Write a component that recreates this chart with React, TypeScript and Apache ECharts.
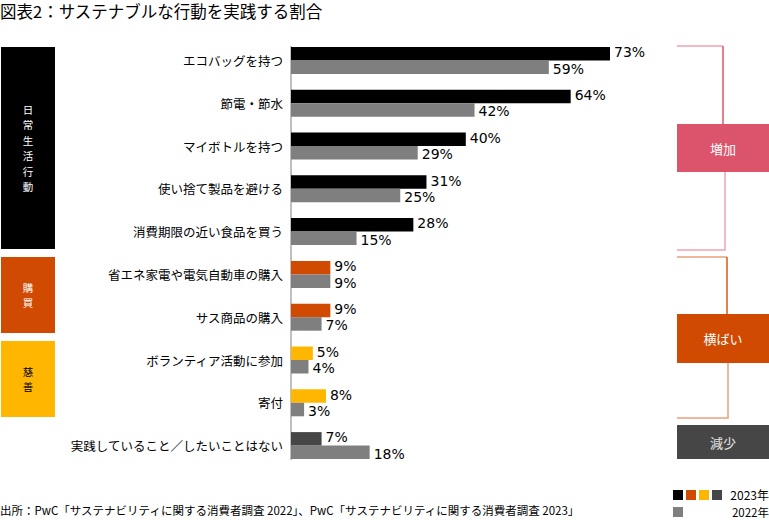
import React, { useEffect, useRef } from "react";
import * as echarts from "echarts";

const categories = [
  "エコバッグを持つ",
  "節電・節水",
  "マイボトルを持つ",
  "使い捨て製品を避ける",
  "消費期限の近い食品を買う",
  "省エネ家電や電気自動車の購入",
  "サス商品の購入",
  "ボランティア活動に参加",
  "寄付",
  "実践していること／したいことはない",
];
const values2023 = [73, 64, 40, 31, 28, 9, 9, 5, 8, 7];
const values2022 = [59, 42, 29, 25, 15, 9, 7, 4, 3, 18];
const colors2023 = [
  "#000000", "#000000", "#000000", "#000000", "#000000",
  "#D04A02", "#D04A02", "#FFB600", "#FFB600", "#464646",
];
const color2022 = "#7F7F7F";
const seriesNames = ["2023年", "2022年"];

const JP = '"Noto Sans CJK JP", "Noto Sans", sans-serif';
const NUM = '"DejaVu Sans", Verdana, sans-serif';

export default function App() {
  const ref = useRef<HTMLDivElement>(null);
  useEffect(() => {
    document.body.style.margin = "0";
    const chart = echarts.init(ref.current!, null, { renderer: "svg" });
    const vText = (s: string, cx: number, cy: number, fill: string) => {
      const chars = s.split("");
      const pitch = 15.5;
      return chars.map((ch, i) => ({
        type: "text",
        x: cx,
        y: cy + (i - (chars.length - 1) / 2) * pitch,
        style: { text: ch, font: `10.5px ${JP}`, fill, align: "center", verticalAlign: "middle" },
      }));
    };
    const graphic: any[] = [
      // title
      { type: "text", x: 0, y: 10.5, style: { text: "図表2：サステナブルな行動を実践する割合", font: `16.5px ${JP}`, fill: "#000", verticalAlign: "middle" } },
      // axis line
      { type: "line", shape: { x1: 291, y1: 46, x2: 291, y2: 460 }, style: { stroke: "#808080", lineWidth: 1 } },
      // left blocks
      { type: "rect", shape: { x: 1, y: 47, width: 54, height: 202 }, style: { fill: "#000000" } },
      ...vText("日常生活行動", 28, 148, "#fff"),
      { type: "rect", shape: { x: 1, y: 257, width: 54, height: 76 }, style: { fill: "#D04A02" } },
      ...vText("購買", 28, 295, "#fff"),
      { type: "rect", shape: { x: 1, y: 341, width: 54, height: 76 }, style: { fill: "#FFB600" } },
      ...vText("慈善", 28, 379, "#000"),
      // pink bracket
      { type: "line", shape: { x1: 677, y1: 46, x2: 723, y2: 46 }, style: { stroke: "#EFA3B1", lineWidth: 1.5 } },
      { type: "line", shape: { x1: 723, y1: 46, x2: 723, y2: 124 }, style: { stroke: "#DC546C", lineWidth: 1.5 } },
      { type: "polyline", shape: { points: [[725, 172], [725, 250], [677, 250]] }, style: { stroke: "#EFA3B1", lineWidth: 1.5, fill: null } },
      { type: "rect", shape: { x: 677, y: 124, width: 92, height: 48 }, style: { fill: "#DC546C" } },
      { type: "text", x: 723, y: 148, style: { text: "増加", font: `13px ${JP}`, fill: "#fff", align: "center", verticalAlign: "middle" } },
      // orange bracket
      { type: "line", shape: { x1: 677, y1: 257, x2: 727, y2: 257 }, style: { stroke: "#EBA07A", lineWidth: 1.5 } },
      { type: "line", shape: { x1: 727, y1: 257, x2: 727, y2: 314 }, style: { stroke: "#D85A15", lineWidth: 1.5 } },
      { type: "polyline", shape: { points: [[728, 363], [728, 418], [677, 418]] }, style: { stroke: "#EBA07A", lineWidth: 1.5, fill: null } },
      { type: "rect", shape: { x: 677, y: 314, width: 92, height: 49 }, style: { fill: "#D04A02" } },
      { type: "text", x: 723, y: 338.5, style: { text: "横ばい", font: `13px ${JP}`, fill: "#fff", align: "center", verticalAlign: "middle" } },
      // decrease box
      { type: "rect", shape: { x: 677, y: 425, width: 92, height: 34 }, style: { fill: "#464646" } },
      { type: "text", x: 723, y: 442, style: { text: "減少", font: `13px ${JP}`, fill: "#e6e6e6", align: "center", verticalAlign: "middle" } },
      // legend
      ...colors2023.filter((c, i, a) => a.indexOf(c) === i).map((c, i) => ({
        type: "rect", shape: { x: 673 + i * 13, y: 490, width: 10, height: 10 }, style: { fill: c },
      })),
      { type: "text", x: 769, y: 494.5, style: { text: seriesNames[0], font: `12px ${JP}`, fill: "#000", align: "right", verticalAlign: "middle" } },
      { type: "rect", shape: { x: 673, y: 507, width: 10, height: 10 }, style: { fill: color2022 } },
      { type: "text", x: 769, y: 511.5, style: { text: seriesNames[1], font: `11.5px ${JP}`, fill: "#000", align: "right", verticalAlign: "middle" } },
      // source
      { type: "text", x: 0, y: 510, style: { text: "出所：PwC「サステナビリティに関する消費者調査 2022」、PwC「サステナビリティに関する消費者調査 2023」", font: `11.5px ${JP}`, fill: "#000", verticalAlign: "middle" } },
    ];

    chart.setOption({
      animation: false,
      grid: { left: 291, top: 39, height: 428, width: 437 },
      xAxis: { type: "value", min: 0, max: 100, show: false },
      yAxis: {
        type: "category",
        data: categories,
        inverse: true,
        axisLine: { show: false },
        axisTick: { show: false },
        axisLabel: { fontSize: 12.5, color: "#000", fontFamily: JP, margin: 8 },
      },
      series: [
        {
          name: seriesNames[0],
          type: "bar",
          barWidth: 13.5,
          barGap: "0%",
          data: values2023.map((v, i) => ({ value: v, itemStyle: { color: colors2023[i] } })),
          label: { show: true, position: "right", distance: 4, offset: [0, -1.5], formatter: "{c}%", fontSize: 14, color: "#000", fontFamily: NUM },
        },
        {
          name: seriesNames[1],
          type: "bar",
          barWidth: 13.5,
          barGap: "0%",
          itemStyle: { color: color2022 },
          data: values2022,
          label: { show: true, position: "right", distance: 4, offset: [0, 1.5], formatter: "{c}%", fontSize: 14, color: "#000", fontFamily: NUM },
        },
      ],
      graphic,
    });
    return () => chart.dispose();
  }, []);
  return <div ref={ref} style={{ width: 769, height: 520 }} />;
}
